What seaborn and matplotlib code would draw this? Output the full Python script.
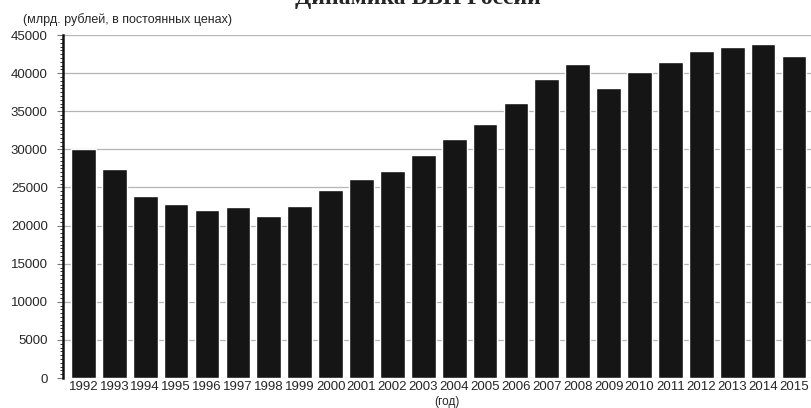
import pandas as pd
import matplotlib.pyplot as plt
import seaborn as sns
from matplotlib.ticker import MultipleLocator

years = [str(y) for y in range(1992, 2016)]
gdp = [30050, 27400, 23950, 22900, 22100, 22450, 21300, 22600, 24700, 26050,
       27200, 29250, 31400, 33350, 36050, 39200, 41200, 38050, 40200, 41450,
       42850, 43400, 43850, 42250]
y_ticks = [0, 5000, 10000, 15000, 20000, 25000, 30000, 35000, 40000, 45000]

df = pd.DataFrame({'year': years, 'gdp': gdp})

sns.set_style('white')
plt.rcParams['font.family'] = ['Liberation Sans', 'DejaVu Sans']

fig = plt.figure(figsize=(8.11, 4.08), dpi=100)
ax = fig.add_axes([0.0777, 0.0735, 0.9223, 0.8405])

sns.barplot(data=df, x='year', y='gdp', color='#151515', saturation=1,
            width=0.8, ax=ax, zorder=3)

ax.set_ylim(0, 45000)
ax.set_xlim(-0.66, 23.55)
ax.set_yticks(y_ticks)
ax.yaxis.set_minor_locator(MultipleLocator(500))
ax.yaxis.grid(True, color='#b5b5b5', linewidth=0.9, zorder=0)
ax.set_axisbelow(True)

for side in ['top', 'right', 'bottom']:
    ax.spines[side].set_visible(False)
ax.spines['left'].set_color('#111111')
ax.spines['left'].set_linewidth(1.8)

ax.tick_params(axis='y', which='major', length=4, width=0.8, color='#777777',
               labelsize=9.5, pad=7, left=True)
ax.tick_params(axis='y', which='minor', length=2, width=0.7, color='#333333', left=True)
ax.tick_params(axis='x', length=0, labelsize=9.5, pad=2)

ax.set_xlabel('')
ax.set_ylabel('')

fig.text(0.551, 0.015, '(год)', fontsize=8.5, ha='center', va='center')
fig.text(0.028, 0.953, '(млрд. рублей, в постоянных ценах)', fontsize=9,
         ha='left', va='center')
fig.text(0.515, 0.99, 'Динамика ВВП России', fontsize=17, fontweight='bold',
         family=['Liberation Serif', 'DejaVu Serif'], ha='center', va='baseline')

plt.savefig('out.png', dpi=100)
plt.close()
